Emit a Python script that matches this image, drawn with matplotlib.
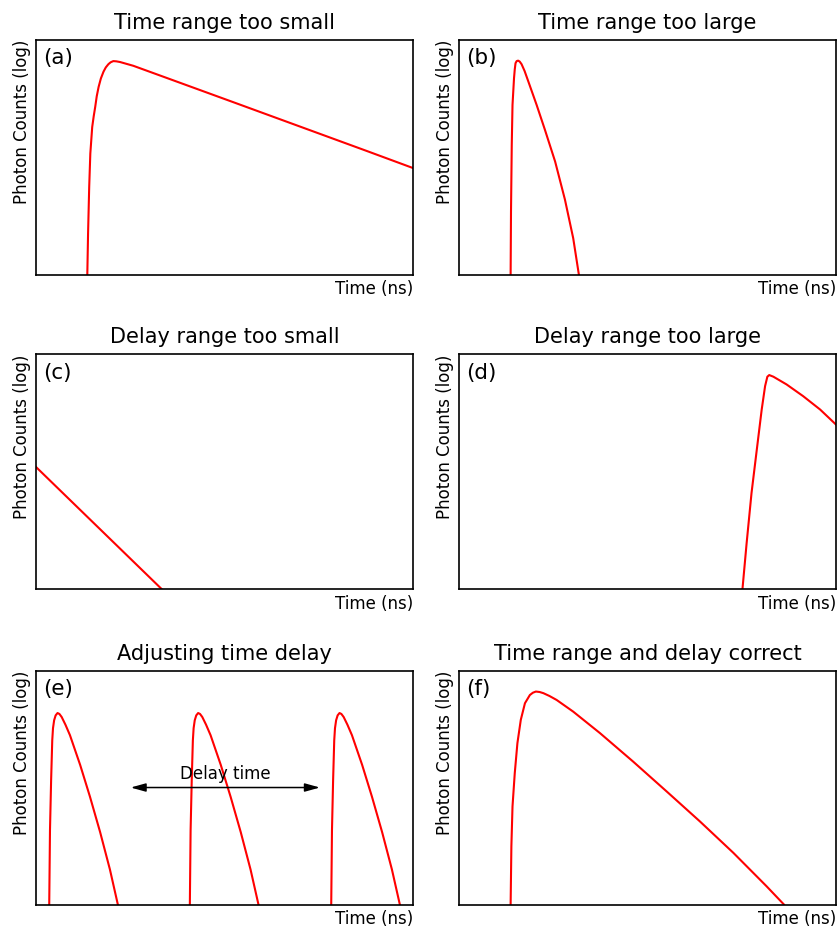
import matplotlib
matplotlib.use('Agg')
from matplotlib import pyplot as plt

OUT_FILENAME = 'out.png'
RED = '#ff0000'

# all panels: time axis 0-10 (arb. ns), log counts axis 0-10
# (a) time range too small
a_time = [1.36, 1.38, 1.41, 1.44, 1.49, 1.53, 1.57, 1.61, 1.66, 1.72, 1.79, 1.85, 1.92, 1.98,
          2.05, 2.13, 2.23, 2.58, 3.47, 5.23, 7.0, 8.77, 10.0]
a_counts = [0.0, 1.74, 3.73, 5.16, 6.29, 6.75, 7.15, 7.6, 8.0, 8.36, 8.65, 8.83, 8.97, 9.05,
            9.10, 9.09, 9.06, 8.90, 8.38, 7.35, 6.31, 5.27, 4.54]

# (b) time range too large
b_time = [1.37, 1.38, 1.40, 1.42, 1.46, 1.48, 1.50, 1.53, 1.57, 1.61, 1.66, 1.74, 1.84,
          2.06, 2.28, 2.55, 2.81, 3.03, 3.18]
b_counts = [0.0, 2.69, 5.53, 7.23, 8.37, 8.75, 9.01, 9.10, 9.12, 9.08, 8.97, 8.68, 8.23,
            7.23, 6.17, 4.82, 3.20, 1.55, 0.0]

# (c) delay range too small
c_time = [0.0, 3.33]
c_counts = [5.20, 0.0]

# (d) delay range too large
d_time = [7.52, 7.63, 7.76, 7.90, 8.03, 8.12, 8.18, 8.23, 8.34, 8.69, 9.13, 9.58, 10.0]
d_counts = [0.0, 1.95, 4.09, 5.94, 7.65, 8.65, 9.05, 9.12, 9.05, 8.72, 8.22, 7.65, 7.01]

# (e) adjusting time delay: one pulse repeated at several delays
e_time = [0.35, 0.37, 0.40, 0.43, 0.45, 0.48, 0.52, 0.57, 0.62, 0.68, 0.78, 0.90,
          1.17, 1.43, 1.70, 1.96, 2.17]
e_counts = [0.0, 3.18, 5.32, 7.03, 7.55, 7.89, 8.10, 8.20, 8.16, 8.03, 7.70, 7.25,
            5.98, 4.62, 3.10, 1.50, 0.0]
e_delays = [0.0, 3.73, 7.48]
delay_arrow = [2.51, 7.53]
delay_arrow_level = 5.01

# (f) time range and delay correct
f_time = [1.37, 1.39, 1.42, 1.48, 1.55, 1.64, 1.75, 1.88, 1.96, 2.04, 2.14, 2.24, 2.40, 2.59,
          3.03, 3.74, 4.62, 5.51, 6.39, 7.28, 8.16, 8.62]
f_counts = [0.0, 2.49, 4.20, 5.63, 6.91, 7.91, 8.62, 8.97, 9.07, 9.12, 9.10, 9.05, 8.93, 8.76,
            8.26, 7.34, 6.12, 4.84, 3.56, 2.21, 0.78, 0.0]

titles = ['Time range too small', 'Time range too large',
          'Delay range too small', 'Delay range too large',
          'Adjusting time delay', 'Time range and delay correct']
tags = ['(a)', '(b)', '(c)', '(d)', '(e)', '(f)']

col_left = [0.0429, 0.5464]
col_width = 0.4488
row_bottom = [0.7048, 0.3667, 0.0274]
row_height = [0.2522, 0.2522, 0.2511]


def setup_axes(fig, i):
    row, col = divmod(i, 2)
    ax = fig.add_axes([col_left[col], row_bottom[row], col_width, row_height[row]])
    ax.set_xlim(0, 10)
    ax.set_ylim(0, 10)
    ax.set_xticks([])
    ax.set_yticks([])
    for s in ax.spines.values():
        s.set_linewidth(1.2)
    ax.set_title(titles[i], fontsize=15, pad=8)
    ax.text(0.018, 0.965, tags[i], transform=ax.transAxes, fontsize=15.5, ha='left', va='top')
    ax.text(-0.038, 1.0, 'Photon Counts (log)', transform=ax.transAxes,
            rotation=90, fontsize=12, ha='center', va='top')
    ax.text(1.0, -0.025, 'Time (ns)', transform=ax.transAxes, fontsize=12, ha='right', va='top')
    return ax


def draw(ax, t, c):
    ax.plot(t, c, color=RED, lw=1.5, solid_joinstyle='round')


def make_figure():
    plt.rcParams['font.family'] = ['DejaVu Sans']
    fig = plt.figure(figsize=(8.4, 9.3), dpi=100)
    axes = [setup_axes(fig, i) for i in range(6)]

    draw(axes[0], a_time, a_counts)
    draw(axes[1], b_time, b_counts)
    draw(axes[2], c_time, c_counts)
    draw(axes[3], d_time, d_counts)
    for d in e_delays:
        draw(axes[4], [t + d for t in e_time], e_counts)
    axes[4].annotate('', xy=(delay_arrow[1], delay_arrow_level), xytext=(delay_arrow[0], delay_arrow_level),
                     arrowprops=dict(arrowstyle='<|-|>,head_length=0.9,head_width=0.25',
                                     color='black', lw=1.1, shrinkA=0, shrinkB=0))
    axes[4].text(sum(delay_arrow) / 2, delay_arrow_level + 0.35, 'Delay time',
                 fontsize=12, ha='center', va='baseline')
    draw(axes[5], f_time, f_counts)

    fig.savefig(OUT_FILENAME, dpi=100)
    plt.close(fig)


if __name__ == '__main__':
    make_figure()
